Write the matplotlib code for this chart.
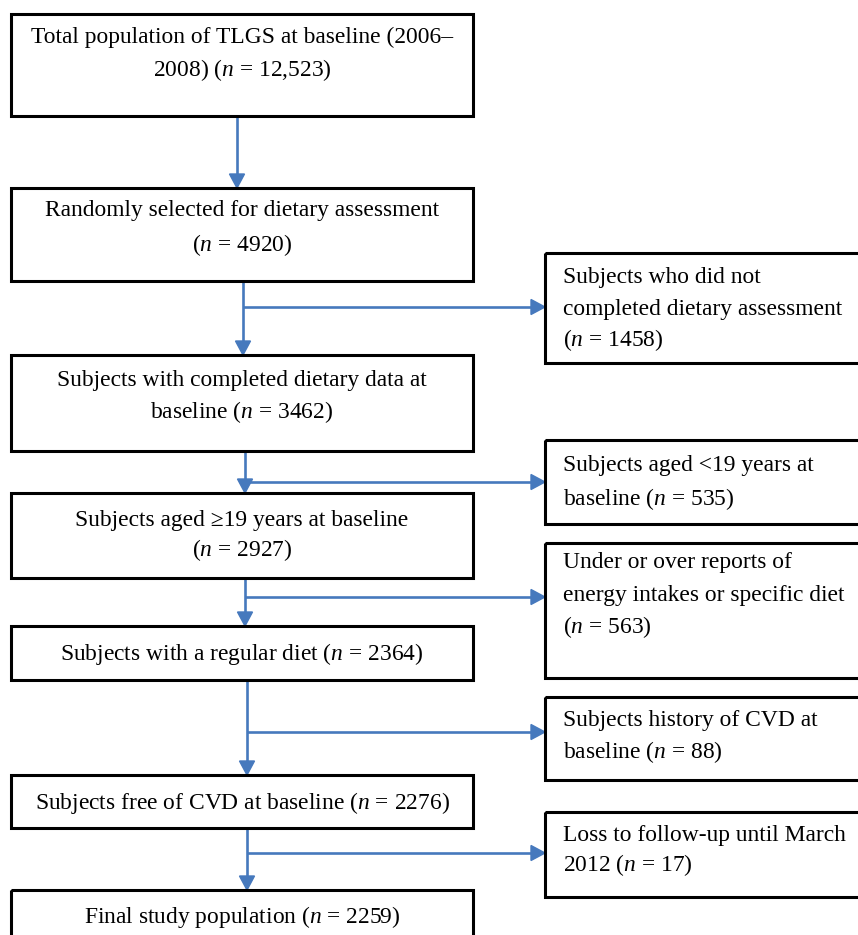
import matplotlib
matplotlib.use("Agg")
import matplotlib.pyplot as plt
from matplotlib.patches import Rectangle, Polygon

plt.rcParams['font.family'] = ['Liberation Serif', 'DejaVu Serif']
plt.rcParams['mathtext.fontset'] = 'custom'
plt.rcParams['mathtext.rm'] = 'Liberation Serif'
plt.rcParams['mathtext.it'] = 'Liberation Serif:italic'

# ---- data ----
main_counts = ["12,523", "4920", "3462", "2927", "2364", "2276", "2259"]
main_templates = [
    ["Total population of TLGS at baseline (2006–", "2008) ($n$ = {})"],
    ["Randomly selected for dietary assessment", "($n$ = {})"],
    ["Subjects with completed dietary data at", "baseline ($n$ = {})"],
    ["Subjects aged ≥19 years at baseline", "($n$ = {})"],
    ["Subjects with a regular diet ($n$ = {})"],
    ["Subjects free of CVD at baseline ($n$ = {})"],
    ["Final study population ($n$ = {})"],
]
excl_counts = ["1458", "535", "563", "88", "17"]
excl_templates = [
    ["Subjects who did not", "completed dietary assessment", "($n$ = {})"],
    ["Subjects aged <19 years at", "baseline ($n$ = {})"],
    ["Under or over reports of", "energy intakes or specific diet", "($n$ = {})"],
    ["Subjects history of CVD at", "baseline ($n$ = {})"],
    ["Loss to follow-up until March", "2012 ($n$ = {})"],
]

# ---- layout (pixels) ----
W, H = 858, 935
main_left, main_right = 11, 473
main_boxes = [(14, 116), (188, 281), (355, 451), (493, 578), (626, 680), (775, 828), (890, 945)]
main_lines_y = [[35, 68], [208, 243], [378, 410], [518, 548], [652], [801], [915]]
seg_x = [237, 243, 245, 245, 247, 247]
excl_left, excl_right = 545, 875
excl_boxes = [(253, 363), (440, 524), (543, 678), (697, 780), (812, 897)]
excl_lines_y = [[275, 307, 338], [463, 497], [560, 593, 625], [718, 750], [833, 863]]
excl_arrow_y = [307, 482, 597, 732, 853]
excl_seg = [1, 2, 3, 4, 5]

arrow_color = '#4679BD'
FS = 16.9
head_len, head_w = 14, 7.5

fig = plt.figure(figsize=(W / 100, H / 100), dpi=100)
ax = fig.add_axes([0, 0, 1, 1])
ax.set_xlim(0, W)
ax.set_ylim(H, 0)
ax.axis('off')


def box(x0, x1, y0, y1):
    ax.add_patch(Rectangle((x0, y0), x1 - x0, y1 - y0, fill=False,
                           edgecolor='black', linewidth=2.2, zorder=3))


def arrow_down(x, y0, y1):
    ax.plot([x, x], [y0, y1 - head_len], color=arrow_color, lw=1.9, zorder=2,
            solid_capstyle='butt')
    ax.add_patch(Polygon([(x - head_w, y1 - head_len), (x + head_w, y1 - head_len), (x, y1)],
                         closed=True, color=arrow_color, zorder=2))


def arrow_right(x0, x1, y):
    ax.plot([x0, x1 - head_len], [y, y], color=arrow_color, lw=1.9, zorder=2,
            solid_capstyle='butt')
    ax.add_patch(Polygon([(x1 - head_len, y - head_w), (x1 - head_len, y + head_w), (x1, y)],
                         closed=True, color=arrow_color, zorder=2))


cx = (main_left + main_right) / 2
for (y0, y1), tmpl, cnt, ys in zip(main_boxes, main_templates, main_counts, main_lines_y):
    box(main_left, main_right, y0, y1)
    for line, yy in zip(tmpl, ys):
        ax.text(cx, yy + 8, line.format(cnt), ha='center', va='baseline',
                fontsize=FS, color='black', zorder=4)

for i in range(len(main_boxes) - 1):
    arrow_down(seg_x[i], main_boxes[i][1], main_boxes[i + 1][0])

for (y0, y1), tmpl, cnt, ys, ay, sg in zip(excl_boxes, excl_templates, excl_counts,
                                           excl_lines_y, excl_arrow_y, excl_seg):
    box(excl_left, excl_right, y0, y1)
    for line, yy in zip(tmpl, ys):
        ax.text(excl_left + 18, yy + 8, line.format(cnt), ha='left', va='baseline',
                fontsize=FS, color='black', zorder=4)
    arrow_right(seg_x[sg], excl_left, ay)

fig.savefig('out.png', dpi=100, facecolor='white')
